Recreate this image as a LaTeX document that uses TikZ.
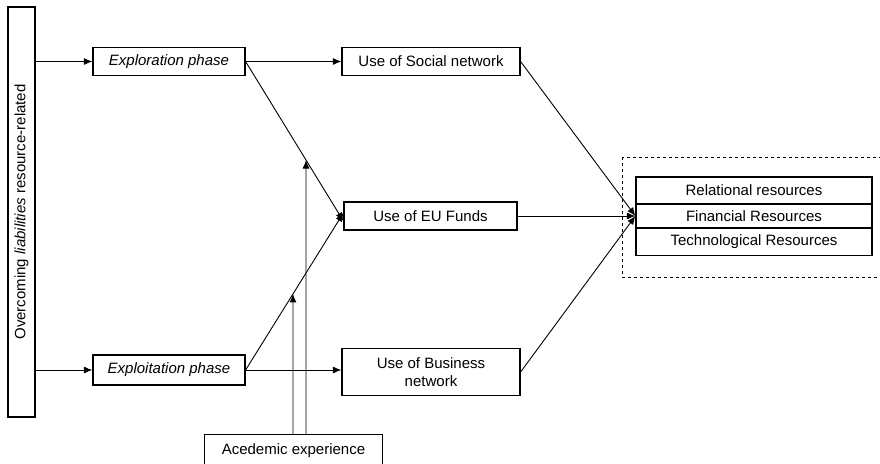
\documentclass[tikz,border=0pt]{standalone}
\usepackage{fontspec}
\setmainfont{Liberation Sans}
\usetikzlibrary{arrows.meta}
\begin{document}
\begin{tikzpicture}[x=1pt,y=-1pt,
  box/.style={draw,line width=1.2pt,inner sep=0pt,align=center,font=\fontsize{15}{17.5}\selectfont},
  link/.style={line width=0.9pt},
  arr/.style={link,-{Latex[length=8.5pt,width=7pt]}}]
\useasboundingbox (0,0) rectangle (880,463);
\clip (0,0) rectangle (880,463);
% driver bar on the left
\node[box,rotate=90,minimum width=410,minimum height=27] (drv) at (21.5,212)
  {Overcoming \textit{liabilities} resource-related};
% phases
\node[box,minimum width=152,minimum height=28] (explor) at (169,61.5) {\textit{Exploration phase}};
\node[box,minimum width=152,minimum height=30] (exploit) at (169,370) {\textit{Exploitation phase}};
% uses
\node[box,minimum width=178,minimum height=28] (social) at (431,61.5) {Use of Social network};
\node[box,minimum width=173,minimum height=28] (eu) at (430.5,216) {Use of EU Funds};
\node[box,minimum width=178,minimum height=47] (biz) at (431,372) {Use of Business\\network};
% moderator
\node[box,minimum width=178,minimum height=32,anchor=north] (acad) at (293.5,434) {Acedemic experience};
% resources
\draw[dashed,line width=0.9pt] (622,157) rectangle (884,277);
\node[box,minimum width=236,minimum height=27] (rel) at (754,190.5) {Relational resources};
\node[box,minimum width=236,minimum height=24] (fin) at (754,216) {Financial Resources};
\node[box,minimum width=236,minimum height=28] (tec) at (754,241.5) {Technological Resources};
% arrow end points
\coordinate (euA) at ([yshift=-5pt]eu.west);
\coordinate (euB) at ([yshift=3pt]eu.west);
\coordinate (resIn) at (fin.west);
% connectors
\draw[arr] (drv.south |- explor.west) -- (explor.west);
\draw[arr] (drv.south |- exploit.west) -- (exploit.west);
\draw[arr] (explor.east) -- (social.west);
\draw[arr] (exploit.east) -- (social.west |- exploit.east);
\draw[arr] (explor.east) -- (euA);
\draw[arr] (exploit.east) -- (euB);
\draw[arr] (social.east) -- (resIn);
\draw[arr] (eu.east) -- (resIn);
\draw[arr] (biz.east) -- (resIn);
% moderating arrows
\coordinate (ma) at ([xshift=-0.5pt]acad.north);
\coordinate (mb) at ([xshift=12.5pt]acad.north);
\coordinate (ta) at (intersection of explor.east--euA and mb--{[yshift=-100pt]mb});
\coordinate (tb) at (intersection of exploit.east--euB and ma--{[yshift=-100pt]ma});
\draw[arr] (mb) -- (ta);
\draw[arr] (ma) -- (tb);
\end{tikzpicture}
\end{document}
